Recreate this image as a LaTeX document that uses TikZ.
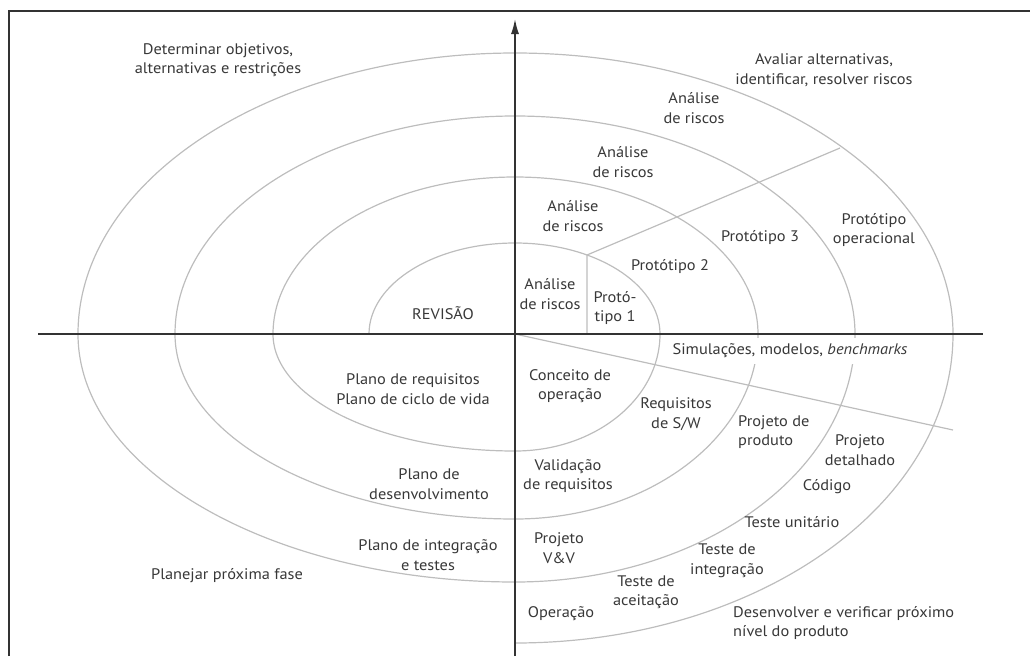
\documentclass[tikz,border=0pt]{standalone}
\usepackage{fontspec}
\setmainfont[FakeStretch=1.07]{PT Sans}
\usetikzlibrary{arrows.meta}
\definecolor{ink}{HTML}{383838}
\definecolor{axis}{HTML}{333333}
\definecolor{curve}{HTML}{BDBDBD}
\begin{document}
\begin{tikzpicture}[x=1pt,y=-1pt,
  lbl/.style={text=ink,align=center,inner sep=0pt,font=\fontsize{15.3}{19.5}\selectfont},
  lbll/.style={lbl,align=left},
  spiralline/.style={draw=curve,line width=1.2pt},
  axisline/.style={draw=axis,line width=1.5pt},
  frameline/.style={draw=axis,line width=2pt}]
\useasboundingbox (0,0) rectangle (1030,656);

% frame (top and left edges)
\draw[frameline] (8.5,656) -- (8.5,11) -- (1030,11);

% spiral built from quarter ellipses around the origin
\coordinate (start) at (369,334);
\draw[spiralline] (start)
  arc[start angle=180,end angle=90,x radius=146pt,y radius=91pt]
  arc[start angle=90,end angle=0,x radius=145pt,y radius=91pt]
  arc[start angle=0,end angle=-90,x radius=145pt,y radius=117pt]
  arc[start angle=-90,end angle=-180,x radius=242pt,y radius=117pt]
  arc[start angle=180,end angle=90,x radius=242pt,y radius=157pt]
  arc[start angle=90,end angle=0,x radius=243pt,y radius=157pt]
  arc[start angle=0,end angle=-90,x radius=243pt,y radius=185pt]
  arc[start angle=-90,end angle=-180,x radius=340pt,y radius=185pt]
  arc[start angle=180,end angle=90,x radius=340pt,y radius=218pt]
  arc[start angle=90,end angle=0,x radius=340pt,y radius=218pt]
  arc[start angle=0,end angle=-90,x radius=340pt,y radius=248pt]
  arc[start angle=-90,end angle=-180,x radius=437pt,y radius=248pt]
  arc[start angle=180,end angle=90,x radius=437pt,y radius=281pt]
  arc[start angle=90,end angle=0,x radius=438pt,y radius=281pt]
  arc[start angle=0,end angle=-90,x radius=438pt,y radius=309pt];

% radial dividers
\coordinate (o) at (515,334);
\coordinate (p1a) at (587,334);
\coordinate (p1b) at (587,255);
\coordinate (p2) at (840,148);
\coordinate (p3) at (953,430);
\draw[spiralline] (p1a) -- (p1b) -- (p2);
\draw[spiralline] (o) -- (p3);

% label masking the spiral
\node[lbl,fill=white,inner xsep=3pt,minimum height=26pt] (sim) at (790,351)
  {Simulações, modelos, \textit{benchmarks}};

% axes
\coordinate (xl) at (38,334);
\coordinate (xr) at (983,334);
\coordinate (yb) at (515,656);
\coordinate (yt) at (515,19);
\draw[axisline] (xl) -- (xr);
\draw[axisline,-{Latex[length=15pt,width=8pt]}] (yb) -- (yt);

% quadrant captions
\node[lbl] (q1) at (218,60) {Determinar objetivos,\\alternativas e restrições};
\node[lbl] (q2) at (824,70) {Avaliar alternativas,\\identificar, resolver riscos};
\node[lbl] (q3) at (227,576) {Planejar próxima fase};
\node[lbll,anchor=west] (q4) at (733,623) {Desenvolver e verificar próximo\\nível do produto};

% upper right
\node[lbl] (ar1) at (694,108) {Análise\\de riscos};
\node[lbl] (ar2) at (623,162) {Análise\\de riscos};
\node[lbl] (ar3) at (573,216) {Análise\\de riscos};
\node[lbl] (ar4) at (550,294) {Análise\\de riscos};
\node[lbl] (pt1) at (615,308) {Protó-\\tipo 1};
\node[lbl] (pt2) at (670,267) {Protótipo 2};
\node[lbl] (pt3) at (760,238) {Protótipo 3};
\node[lbl] (pto) at (874,230) {Protótipo\\operacional};

% upper left
\node[lbl] (rev) at (443,313) {REVISÃO};

% lower left
\node[lbl] (pr) at (413,389) {Plano de requisitos\\Plano de ciclo de vida};
\node[lbl] (pd) at (429,484) {Plano de\\desenvolvimento};
\node[lbl] (pi) at (428,555) {Plano de integração\\e testes};

% lower right
\node[lbl] (co) at (570,386) {Conceito de\\operação};
\node[lbl] (rs) at (676,414) {Requisitos\\de S/W};
\node[lbll,anchor=west] (pp) at (738,432) {Projeto de\\produto};
\node[lbl] (pdt) at (860,450) {Projeto\\detalhado};
\node[lbl] (cod) at (827,487) {Código};
\node[lbl] (tu) at (792,522) {Teste unitário};
\node[lbl] (ti) at (727,561) {Teste de\\integração};
\node[lbl] (vr) at (568,476) {Validação\\de requisitos};
\node[lbl] (vv) at (559,548) {Projeto\\V\&V};
\node[lbl] (ta) at (646,592) {Teste de\\aceitação};
\node[lbl] (op) at (561,614) {Operação};
\end{tikzpicture}
\end{document}
